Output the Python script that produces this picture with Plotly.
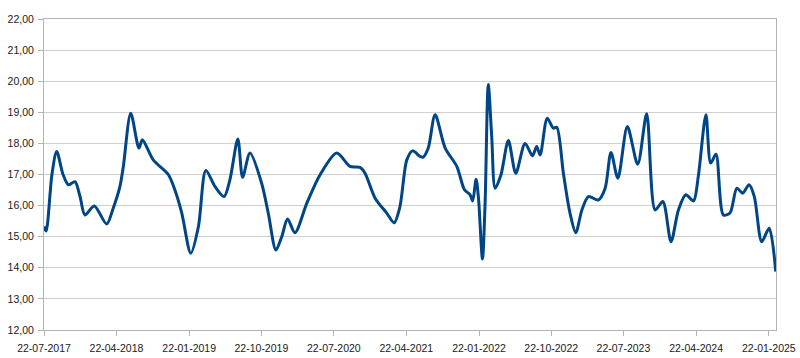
import pandas as pd
import plotly.graph_objects as go

start_date = "2017-07-22"
# days after start date
day_offsets = [0, 8, 30, 48, 72, 92, 117, 136, 155, 190, 237, 261, 287, 300, 328, 359, 372, 413, 470,
               495, 521, 555, 584, 612, 647, 681, 703, 733, 751, 779, 823, 848, 877, 899, 921, 949,
               994, 1044, 1107, 1157, 1195, 1214, 1252, 1296, 1324, 1346, 1372, 1394, 1422, 1434,
               1453, 1479, 1517, 1561, 1590, 1611, 1621, 1634, 1643, 1658, 1668, 1680, 1693, 1706,
               1728, 1756, 1784, 1819, 1847, 1863, 1876, 1903, 1926, 1939, 1964, 1989, 2011, 2034,
               2059, 2096, 2122, 2144, 2170, 2206, 2245, 2279, 2311, 2340, 2371, 2399, 2427, 2456,
               2474, 2503, 2521, 2541, 2569, 2594, 2620, 2642, 2666, 2686, 2714, 2742, 2767]
values = [15.33, 15.18, 17.0, 17.74, 17.0, 16.67, 16.77, 16.3, 15.7, 15.99, 15.41, 15.9, 16.61, 17.26,
          18.97, 17.85, 18.12, 17.47, 17.0, 16.5, 15.76, 14.47, 15.33, 17.13, 16.61, 16.29, 16.83,
          18.14, 16.91, 17.69, 16.72, 15.76, 14.57, 15.0, 15.57, 15.13, 16.08, 16.99, 17.69, 17.26,
          17.23, 17.04, 16.24, 15.76, 15.45, 15.97, 17.47, 17.76, 17.58, 17.56, 17.85, 18.92, 17.85,
          17.26, 16.51, 16.35, 16.15, 16.85, 16.24, 14.28, 16.08, 19.89, 18.22, 16.56, 16.99, 18.09,
          17.04, 18.0, 17.6, 17.9, 17.63, 18.81, 18.49, 18.52, 17.04, 15.76, 15.13, 15.86, 16.29,
          16.18, 16.56, 17.71, 16.88, 18.54, 17.33, 18.95, 15.86, 16.13, 14.84, 15.86, 16.35, 16.15,
          16.93, 18.92, 17.37, 17.65, 15.7, 15.76, 16.56, 16.4, 16.67, 16.29, 14.84, 15.27, 13.88]

tick_dates = ["2017-07-22", "2018-04-22", "2019-01-22", "2019-10-22", "2020-07-22", "2021-04-22",
              "2022-01-22", "2022-10-22", "2023-07-22", "2024-04-22", "2025-01-22"]
tick_labels = ["22-07-2017", "22-04-2018", "22-01-2019", "22-10-2019", "22-07-2020", "22-04-2021",
               "22-01-2022", "22-10-2022", "22-07-2023", "22-04-2024", "22-01-2025"]
x_end = "2025-02-18"

dates = pd.Timestamp(start_date) + pd.to_timedelta(day_offsets, unit="D")

fig = go.Figure()
fig.add_trace(go.Scatter(
    x=dates, y=values, mode="lines",
    line=dict(color="#004586", width=3, shape="spline", smoothing=0.8),
    hoverinfo="x+y",
))

axis_font = dict(family="Liberation Sans, Arial, sans-serif", size=10.5, color="#1a1a1a")
fig.update_layout(
    width=800, height=358,
    margin=dict(l=44, r=24, t=19, b=28, autoexpand=False),
    paper_bgcolor="white", plot_bgcolor="white",
    showlegend=False,
    separators=",.",
    font=axis_font,
)
fig.update_xaxes(
    type="date",
    range=[start_date, x_end],
    tickvals=tick_dates, ticktext=tick_labels,
    showgrid=False, zeroline=False, automargin=False,
    showline=True, linecolor="#b3b3b3", linewidth=1, mirror=True,
    ticks="outside", ticklen=5, tickcolor="#b3b3b3",
    ticklabelstandoff=3,
    tickfont=axis_font,
)
fig.update_yaxes(
    range=[12, 22], dtick=1, tick0=12, tickformat=".2f",
    showgrid=True, gridcolor="#d0d0d0", gridwidth=1, zeroline=False, automargin=False,
    showline=True, linecolor="#b3b3b3", linewidth=1, mirror=True,
    ticks="outside", ticklen=5, tickcolor="#b3b3b3",
    ticklabelstandoff=2,
    tickfont=axis_font,
)

fig.write_html("out.html")
